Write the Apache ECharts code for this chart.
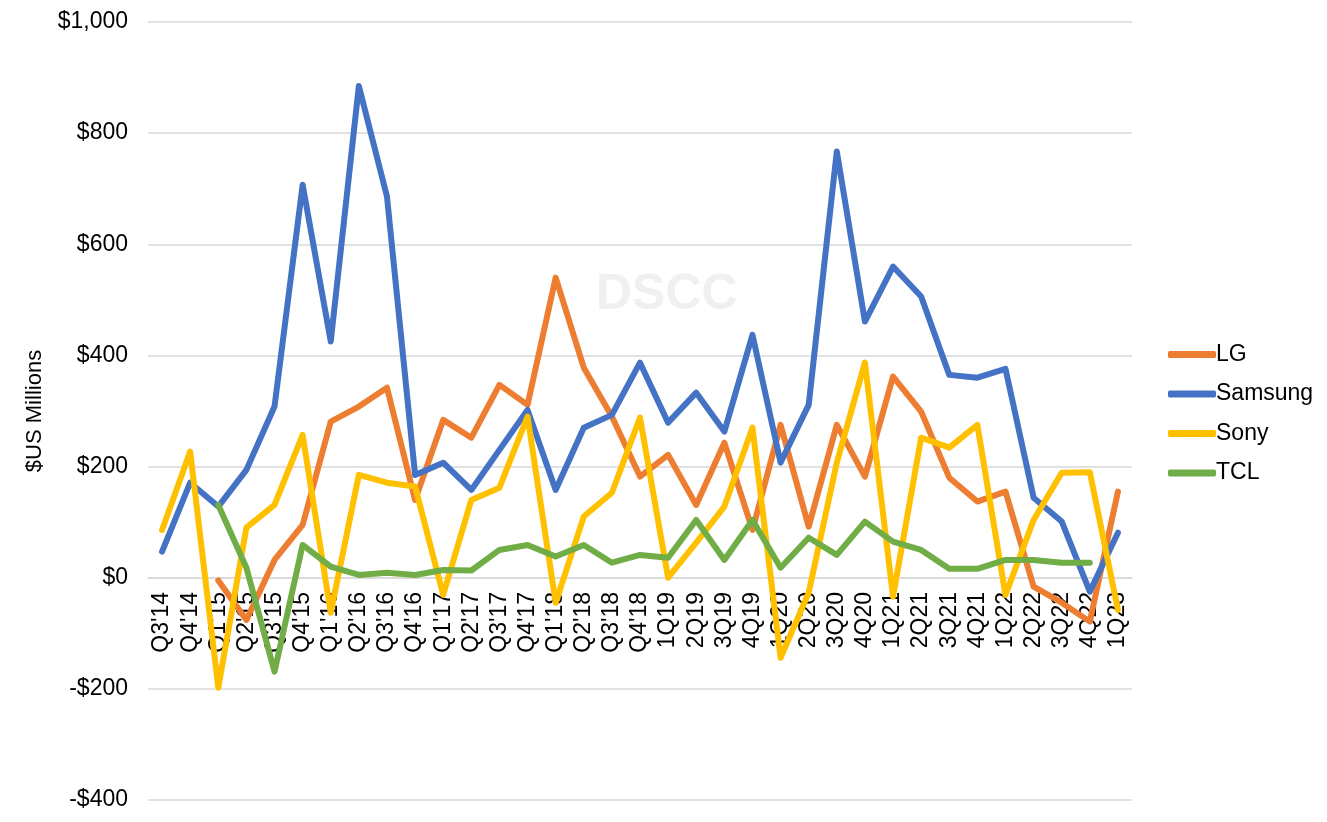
<!DOCTYPE html>
<html>
<head>
<meta charset="utf-8">
<script src="https://cdn.jsdelivr.net/npm/echarts@6/dist/echarts.min.js"></script>
<style>html,body{margin:0;padding:0;background:#fff;}#c{width:1327px;height:822px;}</style>
</head>
<body>
<div id="c"></div>
<script>
const categories = ["Q3'14","Q4'14","Q1'15","Q2'15","Q3'15","Q4'15","Q1'16","Q2'16","Q3'16","Q4'16","Q1'17","Q2'17","Q3'17","Q4'17","Q1'18","Q2'18","Q3'18","Q4'18","1Q19","2Q19","3Q19","4Q19","1Q20","2Q20","3Q20","4Q20","1Q21","2Q21","3Q21","4Q21","1Q22","2Q22","3Q22","4Q22","1Q23"];
const lg = [null,null,-5,-76,32,95,281,308,342,140,284,252,347,311,540,378,290,182,221,131,243,86,275,92,275,182,362,299,180,137,155,-16,-45,-79,155];
const samsung = [47,171,128,194,308,707,425,885,686,185,207,158,230,302,158,270,293,387,279,333,263,437,207,311,767,461,560,506,365,360,376,144,101,-25,81];
const sony = [86,227,-198,90,131,257,-63,185,171,164,-31,140,162,290,-45,110,153,288,0,63,128,270,-144,-27,207,387,-34,252,234,275,-31,104,189,190,-58];
const tcl = [null,null,131,18,-169,59,20,5,9,5,14,13,50,59,38,59,27,41,36,104,32,104,18,72,41,101,65,50,16,16,32,32,27,27,null];
const yTicks = [-400,-200,0,200,400,600,800,1000];

const font = 'Liberation Sans, Arial, sans-serif';
function mk(name, data, color){
  return {name, type:'line', data, symbol:'none', connectNulls:false, z:10,
    lineStyle:{width:6, color, cap:'round', join:'round'}, itemStyle:{color}};
}
const chart = echarts.init(document.getElementById('c'));
chart.setOption({
  animation:false,
  graphic:[{type:'text', left:596, top:270, z:-1, style:{text:'DSCC', font:'bold 50px '+font, fill:'#f0f0f0'}}],
  grid:{left:148, right:195, top:22, bottom:22, outerBoundsMode:'none', containLabel:false},
  legend:{orient:'vertical', left:1163, top:338, itemWidth:48, itemHeight:7, itemGap:16.5, icon:'roundRect',
    textStyle:{fontFamily:font, fontSize:23, color:'#000', padding:[0,0,0,-5]},
    data:['LG','Samsung','Sony','TCL']},
  xAxis:{type:'category', data:categories, boundaryGap:true, position:'bottom', offset:-222, z:0,
    axisLine:{onZero:false, lineStyle:{color:'#d9d9d9', width:1.5}}, axisTick:{show:false},
    axisLabel:{rotate:90, interval:0, margin:14, fontFamily:font, fontSize:23, color:'#000', hideOverlap:false}},
  yAxis:{type:'value', min:-400, max:1000, interval:200, z:0,
    name:'$US Millions', nameLocation:'middle', nameGap:102, nameRotate:90,
    nameTextStyle:{fontFamily:font, fontSize:22, color:'#000'},
    axisLine:{show:false}, axisTick:{show:false},
    splitLine:{lineStyle:{color:'#d9d9d9', width:1.5}},
    axisLabel:{fontFamily:font, fontSize:23, color:'#000', margin:20,
      formatter:v=> yTicks.includes(v) ? (v<0?'-$':'$') + Math.abs(v).toLocaleString('en-US') : ''}},
  series:[mk('LG',lg,'#ED7D31'), mk('Samsung',samsung,'#4472C4'), mk('Sony',sony,'#FFC000'), mk('TCL',tcl,'#70AD47')]
});
</script>
</body>
</html>
